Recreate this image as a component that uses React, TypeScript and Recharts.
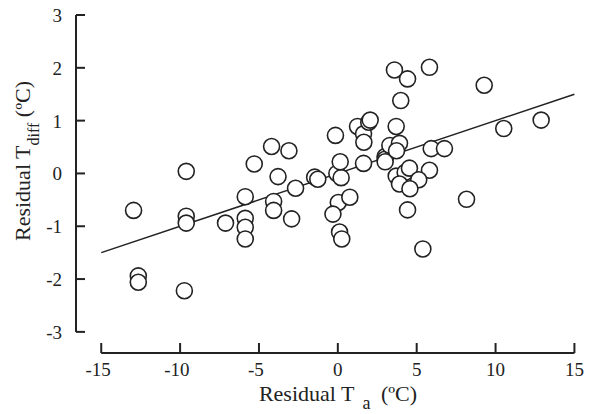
import React from 'react';
import { ScatterChart, Scatter, XAxis, YAxis, ReferenceLine, Label } from 'recharts';

// residual air temperature (x) vs residual T_diff (y)
const resTa = [
  -12.95, -12.65, -12.65, -9.61, -9.61, -9.61, -9.73, -7.12, -5.3, -5.87,
  -5.87, -5.87, -5.87, -4.2, -3.79, -4.07, -4.07, -3.1, -2.68, -2.93,
  -1.47, -1.27, -0.15, -0.06, 0.21, 0.15, 0.03, 0.76, -0.31, 0.11,
  0.25, 1.25, 1.63, 1.65, 1.96, 2.05, 1.63, 3.0, 3.0, 3.0,
  3.59, 4.42, 5.81, 9.28, 3.99, 3.7, 3.3, 3.91, 3.72, 5.92,
  6.76, 12.89, 10.52, 3.7, 4.27, 4.54, 5.81, 5.13, 3.91, 4.57,
  4.42, 8.16, 5.39,
];
const resTdiff = [
  -0.7, -1.94, -2.06, 0.04, -0.81, -0.94, -2.22, -0.94, 0.18, -0.44,
  -0.85, -1.02, -1.24, 0.51, -0.06, -0.53, -0.7, 0.43, -0.28, -0.86,
  -0.07, -0.11, 0.72, 0.0, -0.08, 0.22, -0.55, -0.45, -0.77, -1.11,
  -1.24, 0.89, 0.75, 0.59, 0.97, 1.01, 0.19, 0.32, 0.27, 0.22,
  1.96, 1.79, 2.01, 1.67, 1.38, 0.89, 0.53, 0.57, 0.43, 0.47,
  0.47, 1.01, 0.85, -0.05, 0.02, 0.1, 0.06, -0.12, -0.2, -0.29,
  -0.69, -0.49, -1.43,
];

// fitted regression line end points
const fitTa = [-15, 15];
const fitTdiff = [-1.5, 1.5];

const xTicks = [-15, -10, -5, 0, 5, 10, 15];
const yTicks = [-3, -2, -1, 0, 1, 2, 3];

const points = resTa.map((x, i) => ({ x, y: resTdiff[i] }));
const fit = fitTa.map((x, i) => ({ x, y: fitTdiff[i] }));

const INK = '#222';
const FONT = '"Liberation Serif", "Times New Roman", serif';
const TICK_FONT = 19;
const X_MIN = -16.6;
const Y_MIN = -3.4;

const XTick = (props: any) => {
  const { x, y, payload } = props;
  const v = payload.value;
  const digits = String(Math.abs(v));
  // digits sit centred on the tick, the minus hangs to the left
  const right = x + (digits.length * TICK_FONT * 0.5) / 2;
  return (
    <g>
      <line x1={x} y1={y} x2={x} y2={y - 10} stroke={INK} strokeWidth={2} />
      <text x={right} y={y + 23} textAnchor="end" fontSize={TICK_FONT} fontFamily={FONT} fill={INK}>
        {v < 0 ? '-' + digits : digits}
      </text>
    </g>
  );
};

const YTick = (props: any) => {
  const { x, y, payload } = props;
  return (
    <g>
      <line x1={x} y1={y} x2={x + 9} y2={y} stroke={INK} strokeWidth={2} />
      <text x={x - 14} y={y + 7} textAnchor="end" fontSize={TICK_FONT} fontFamily={FONT} fill={INK}>
        {payload.value}
      </text>
    </g>
  );
};

const XTitle = () => (
  <text x={338} y={401} textAnchor="middle" fontSize={22} fontFamily={FONT} fill={INK}>
    Residual T<tspan dx={8} dy={8} fontSize={18}>a</tspan>
    <tspan dx={5} dy={-8}> (ºC)</tspan>
  </text>
);

const YTitle = () => (
  <text
    x={30}
    y={161}
    transform="rotate(-90, 30, 161)"
    textAnchor="middle"
    fontSize={22}
    fontFamily={FONT}
    fill={INK}
  >
    Residual T<tspan dy={9} fontSize={16}>diff</tspan>
    <tspan dy={-9}> (ºC)</tspan>
  </text>
);

const Dot = (props: any) => (
  <circle cx={props.cx} cy={props.cy} r={8} fill="#fff" stroke={INK} strokeWidth={1.6} />
);

export default function App() {
  return (
    <div style={{ position: 'absolute', left: 0, top: 0, width: 592, height: 414, background: '#fff' }}>
      <ScatterChart width={592} height={414} margin={{ top: 15, right: 16, bottom: 0, left: 0 }}>
        <XAxis
          type="number"
          dataKey="x"
          domain={[X_MIN, 15.1]}
          ticks={xTicks}
          allowDataOverflow
          height={61}
          axisLine={false}
          tickLine={false}
          tickSize={0}
          tickMargin={0}
          tick={<XTick />}
          interval={0}
        >
          <Label content={<XTitle />} />
        </XAxis>
        <YAxis
          type="number"
          dataKey="y"
          domain={[Y_MIN, 3]}
          ticks={yTicks}
          allowDataOverflow
          width={76}
          axisLine={false}
          tickLine={false}
          tickSize={0}
          tickMargin={0}
          tick={<YTick />}
          interval={0}
        >
          <Label content={<YTitle />} />
        </YAxis>
        <ReferenceLine
          segment={[{ x: X_MIN, y: -3 }, { x: X_MIN, y: 3 }]}
          stroke={INK}
          strokeWidth={2}
          ifOverflow="visible"
        />
        <ReferenceLine
          segment={[{ x: -15, y: Y_MIN }, { x: 15, y: Y_MIN }]}
          stroke={INK}
          strokeWidth={2}
          ifOverflow="visible"
        />
        <Scatter
          data={fit}
          line={{ stroke: INK, strokeWidth: 1.5 }}
          shape={() => <g />}
          isAnimationActive={false}
        />
        <Scatter data={points} shape={<Dot />} isAnimationActive={false} />
      </ScatterChart>
    </div>
  );
}
